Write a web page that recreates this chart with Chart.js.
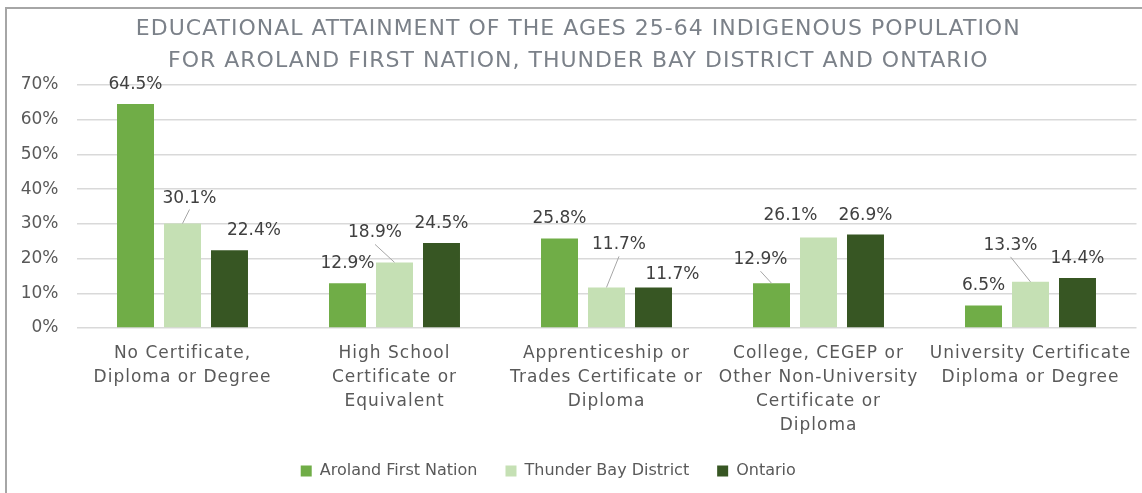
<!DOCTYPE html>
<html><head><meta charset="utf-8">
<script src="https://cdn.jsdelivr.net/npm/chart.js@4"></script>
<style>
html,body{margin:0;padding:0;background:#fff;}
#wrap{position:relative;width:1142px;height:493px;overflow:hidden;}
#frame{position:absolute;left:5px;top:7px;width:1300px;height:700px;border:2px solid #a6a6a6;box-sizing:border-box;}
canvas{position:absolute;left:0;top:0;}
</style></head><body>
<div id="wrap"><div id="frame"></div><canvas id="c" width="1142" height="493"></canvas></div>
<script>
const categories = [
  ["No Certificate,", "Diploma or Degree"],
  ["High School", "Certificate or", "Equivalent"],
  ["Apprenticeship or", "Trades Certificate or", "Diploma"],
  ["College, CEGEP or", "Other Non-University", "Certificate or", "Diploma"],
  ["University Certificate", "Diploma or Degree"]
];
const seriesNames = ["Aroland First Nation", "Thunder Bay District", "Ontario"];
const aroland = [64.5, 12.9, 25.8, 12.9, 6.5];
const thunderBay = [30.1, 18.9, 11.7, 26.1, 13.3];
const ontario = [22.4, 24.5, 11.7, 26.9, 14.4];
const yTickValues = [0, 10, 20, 30, 40, 50, 60, 70];

// manual data-label nudges (dx, dy, leader line)
const labelNudges = [
  [[0,0],[0,0],[0,0],[-11,-4,true],[0,0]],
  [[7,-6,true],[-19.5,-10,true],[12.5,-23,true],[-28,-2],[-20,-17,true]],
  [[24.5,0],[0,0],[19,7],[0,0],[0,0]]
];

const FONT = '"DejaVu Sans", sans-serif';

const labelPlugin = {
  id: 'barLabels',
  beforeDraw(chart) {
    if (chart.$wrapped) return;
    chart.$wrapped = true;
    const wrap = (obj, method, ls, dx) => {
      if (!obj || !obj[method]) return;
      const orig = obj[method].bind(obj);
      obj[method] = function (...args) {
        const c = chart.ctx;
        c.save();
        c.letterSpacing = ls;
        if (dx) c.translate(dx, 0);
        orig(...args);
        c.restore();
      };
    };
    wrap(chart.titleBlock, 'draw', '1px', 0);
    wrap(chart.scales.x, 'drawLabels', '1px', 0);
    wrap(chart.legend, 'draw', '0px', -30);
  },
  afterDatasetsDraw(chart) {
    const ctx = chart.ctx;
    ctx.save();
    ctx.font = '17px ' + FONT;
    ctx.fillStyle = '#404040';
    ctx.textAlign = 'center';
    ctx.textBaseline = 'alphabetic';
    chart.data.datasets.forEach((ds, di) => {
      const meta = chart.getDatasetMeta(di);
      meta.data.forEach((bar, i) => {
        const n = labelNudges[di][i];
        const lx = bar.x + n[0];
        const ly = bar.y - 21 + n[1];
        if (n[2]) {
          ctx.strokeStyle = '#a6a6a6';
          ctx.lineWidth = 1;
          ctx.beginPath();
          ctx.moveTo(lx, ly + 13);
          ctx.lineTo(bar.x, bar.y);
          ctx.stroke();
        }
        ctx.fillText(ds.data[i].toFixed(1) + '%', lx, ly + 6);
      });
    });
    ctx.restore();
  }
};

new Chart(document.getElementById('c'), {
  type: 'bar',
  data: {
    labels: categories,
    datasets: [
      { label: seriesNames[0], data: aroland, backgroundColor: '#70ad47' },
      { label: seriesNames[1], data: thunderBay, backgroundColor: '#c5e0b4' },
      { label: seriesNames[2], data: ontario, backgroundColor: '#375623' }
    ]
  },
  options: {
    responsive: false,
    animation: false,
    categoryPercentage: 0.665,
    barPercentage: 0.787,
    layout: { padding: { left: 20, right: 5.5, top: 0, bottom: 4 } },
    plugins: {
      tooltip: { enabled: false },
      title: {
        display: true,
        text: ["EDUCATIONAL ATTAINMENT OF THE AGES 25-64 INDIGENOUS POPULATION",
               "FOR AROLAND FIRST NATION, THUNDER BAY DISTRICT AND ONTARIO"],
        color: '#7b8189',
        font: { family: FONT, size: 22, weight: 'normal', lineHeight: 32/22 },
        padding: { top: 13, bottom: 8 }
      },
      legend: {
        position: 'bottom',
        labels: {
          boxWidth: 11, boxHeight: 11, padding: 28,
          color: '#595959',
          font: { family: FONT, size: 16 }
        }
      }
    },
    scales: {
      x: {
        grid: { display: false, drawTicks: false },
        border: { display: false },
        ticks: {
          color: '#595959', padding: 14, maxRotation: 0, autoSkip: false,
          font: { family: FONT, size: 17, lineHeight: 24/17 }
        },
        afterFit(scale) { scale.height = 107; }
      },
      y: {
        min: 0, max: 70,
        afterBuildTicks(scale) { scale.ticks = yTickValues.map(v => ({ value: v })); },
        grid: { color: '#d9d9d9', lineWidth: 1.5, drawTicks: false },
        border: { display: false },
        ticks: {
          color: '#595959', padding: 18,
          font: { family: FONT, size: 17 },
          callback: v => v + '%'
        },
        afterFit(scale) { scale.width = 56.5; }
      }
    }
  },
  plugins: [labelPlugin]
});
</script>
</body></html>
